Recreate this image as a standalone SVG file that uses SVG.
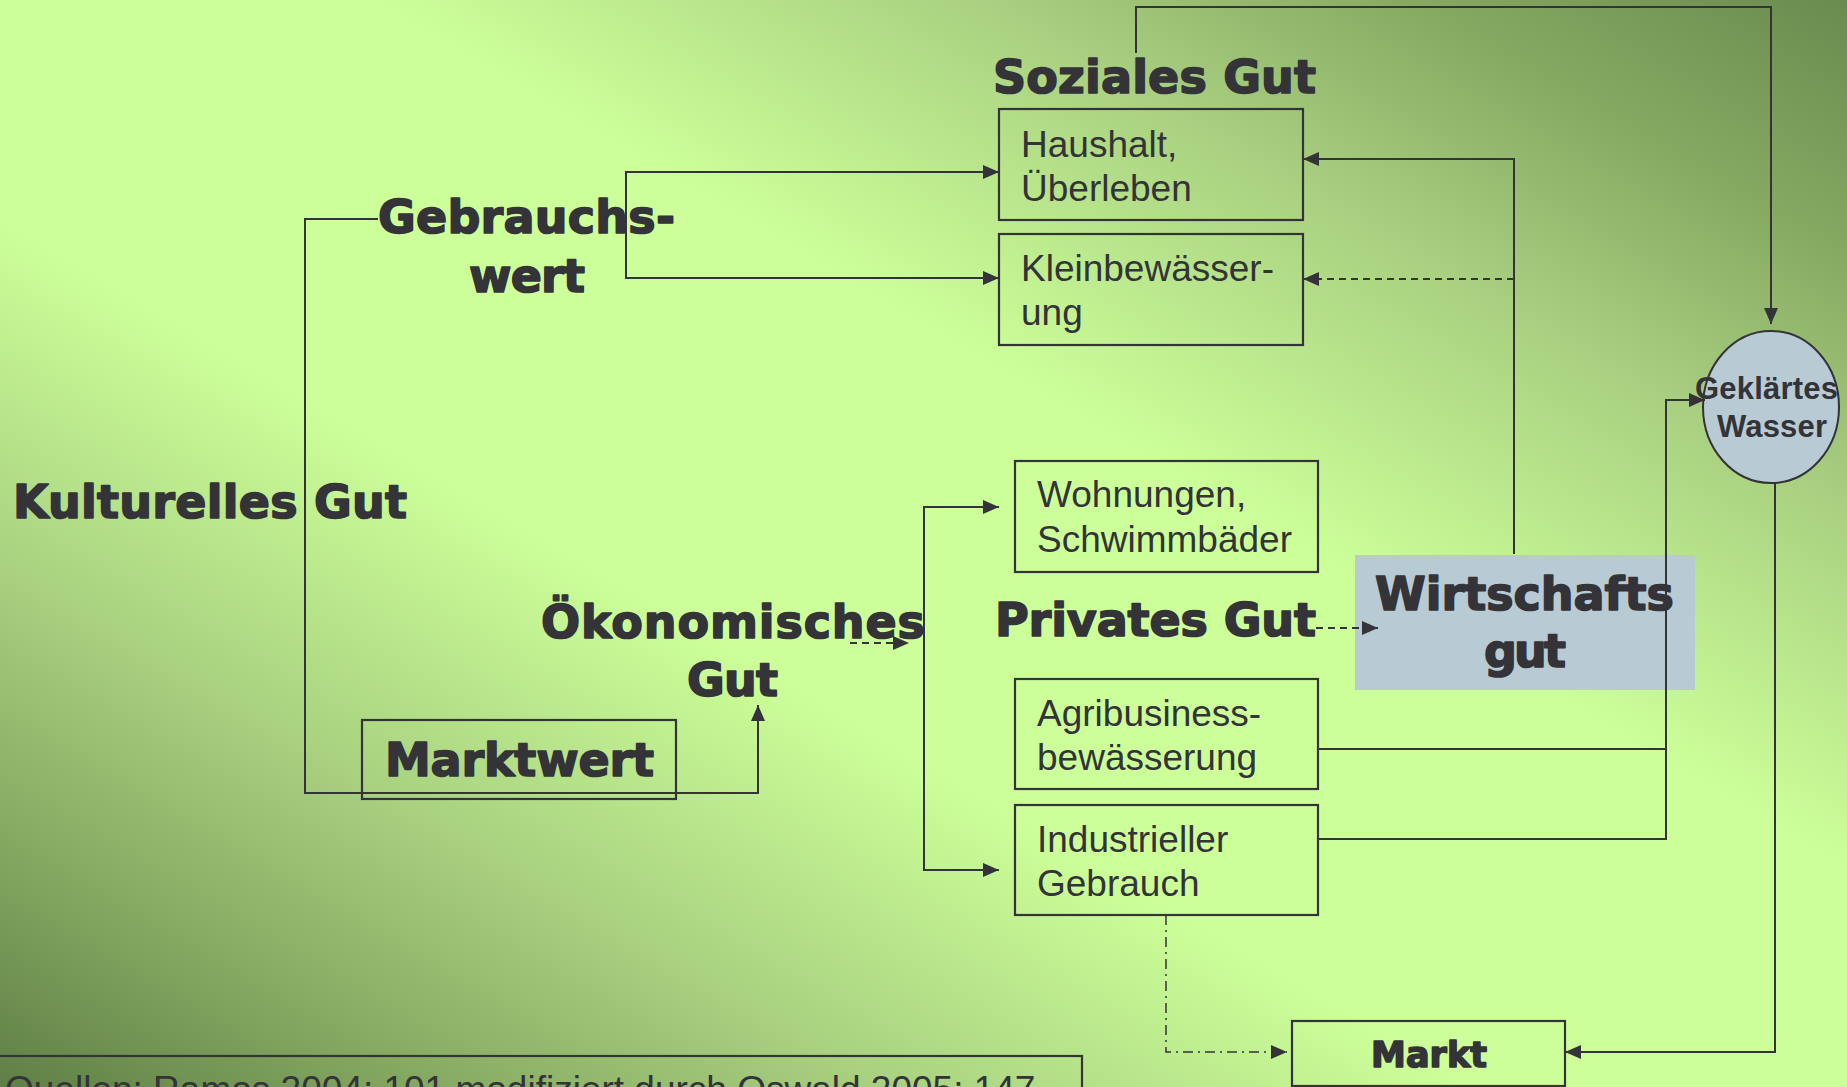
<svg xmlns="http://www.w3.org/2000/svg" width="1847" height="1087" viewBox="0 0 1847 1087">
<defs>
<linearGradient id="bg" x1="0" y1="1" x2="1" y2="0">
<stop offset="0" stop-color="#5f7f46"/>
<stop offset="0.12" stop-color="#86aa62"/>
<stop offset="0.24" stop-color="#a9d180"/>
<stop offset="0.4" stop-color="#ccff99"/>
<stop offset="0.6" stop-color="#ccff99"/>
<stop offset="0.77" stop-color="#a8cf80"/>
<stop offset="0.88" stop-color="#86aa62"/>
<stop offset="1" stop-color="#698b4f"/>
</linearGradient>
<marker id="ah" markerUnits="userSpaceOnUse" markerWidth="16" markerHeight="14" refX="16" refY="7" orient="auto">
<path d="M0,0 L16,7 L0,14 z" fill="#333338"/>
</marker>
<style>
.box{fill:none;stroke:#333338;stroke-width:2.2}
.t{font-family:"Liberation Sans",Arial,sans-serif;font-size:37px;fill:#333338}
.b{font-family:"DejaVu Sans",Verdana,sans-serif;font-weight:bold;font-size:46px;fill:#333338;stroke:#333338;stroke-width:1.6;stroke-linejoin:round}
.m{font-size:35px}
.bs{font-family:"Liberation Sans",Arial,sans-serif;font-weight:bold;font-size:31px;fill:#333338}
.c{fill:none;stroke:#333338;stroke-width:2}
.a{marker-end:url(#ah)}
.d{stroke-dasharray:7 5}
.dd{stroke-dasharray:10 5 2 5;stroke-width:1.5}
.blue{fill:#b8cad4}
</style>
</defs>
<rect x="0" y="0" width="1847" height="1087" fill="url(#bg)"/>

<g id="wirtschaftsgut">
<rect class="blue" x="1355" y="555" width="340" height="135"/>
<text class="b" x="1375" y="610" textLength="299" lengthAdjust="spacing">Wirtschafts</text>
<text class="b" x="1484" y="667" textLength="82" lengthAdjust="spacing">gut</text>
</g>

<g id="kulturelles-gut">
<text class="b" x="13" y="518" textLength="394" lengthAdjust="spacing">Kulturelles Gut</text>
</g>

<g id="gebrauchswert">
<text class="b" x="378" y="233" textLength="297" lengthAdjust="spacing">Gebrauchs-</text>
<text class="b" x="469" y="292" textLength="116" lengthAdjust="spacing">wert</text>
</g>

<g id="soziales-gut">
<text class="b" x="993" y="93" textLength="323" lengthAdjust="spacing">Soziales Gut</text>
</g>

<g id="haushalt">
<rect class="box" x="999" y="109" width="304" height="111"/>
<text class="t" x="1021" y="157">Haushalt,</text>
<text class="t" x="1021" y="201">Überleben</text>
</g>

<g id="kleinbewaesserung">
<rect class="box" x="999" y="234" width="304" height="111"/>
<text class="t" x="1021" y="281">Kleinbewässer-</text>
<text class="t" x="1021" y="325">ung</text>
</g>

<g id="oekonomisches-gut">
<text class="b" x="541" y="638" textLength="384" lengthAdjust="spacing">Ökonomisches</text>
<text class="b" x="687" y="696" textLength="91" lengthAdjust="spacing">Gut</text>
</g>

<g id="marktwert">
<rect class="box" x="362" y="720" width="314" height="79"/>
<text class="b" x="385" y="776" textLength="269" lengthAdjust="spacing">Marktwert</text>
</g>

<g id="wohnungen">
<rect class="box" x="1015" y="461" width="303" height="111"/>
<text class="t" x="1037" y="507">Wohnungen,</text>
<text class="t" x="1037" y="552">Schwimmbäder</text>
</g>

<g id="privates-gut">
<text class="b" x="995" y="636" textLength="321" lengthAdjust="spacing">Privates Gut</text>
</g>

<g id="agribusiness">
<rect class="box" x="1015" y="679" width="303" height="110"/>
<text class="t" x="1037" y="726">Agribusiness-</text>
<text class="t" x="1037" y="770">bewässerung</text>
</g>

<g id="industrieller-gebrauch">
<rect class="box" x="1015" y="805" width="303" height="110"/>
<text class="t" x="1037" y="852">Industrieller</text>
<text class="t" x="1037" y="896">Gebrauch</text>
</g>

<g id="markt">
<rect class="box" x="1292" y="1021" width="273" height="65"/>
<text class="b m" x="1371" y="1067" textLength="116" lengthAdjust="spacing">Markt</text>
</g>

<g id="geklaertes-wasser">
<ellipse cx="1771" cy="407" rx="68" ry="76" fill="#b8cad4" stroke="#333338" stroke-width="2"/>
<text class="bs" x="1695" y="399" textLength="143" lengthAdjust="spacing">Geklärtes</text>
<text class="bs" x="1717" y="437" textLength="110" lengthAdjust="spacing">Wasser</text>
</g>

<g id="quellen">
<rect class="box" x="-2" y="1056" width="1084" height="60"/>
<text class="t" x="5" y="1102">Quellen: Ramos 2004: 101 modifiziert durch Oswald 2005: 147</text>
</g>

<g id="connectors">
<path class="c a" d="M378,219 H305 V793 H758 V705"/>
<path class="c a" d="M626,225 V172 H999"/>
<path class="c a" d="M626,225 V278 H999"/>
<path class="c a d" d="M850,643 H909"/>
<path class="c a" d="M924,690 V507 H999"/>
<path class="c a" d="M924,690 V870 H999"/>
<path class="c a d" d="M1316,628 H1378"/>
<path class="c a" d="M1514,554 V159 H1303"/>
<path class="c a d" d="M1514,279 H1303"/>
<path class="c a" d="M1136,53 V7 H1771 V324"/>
<path class="c" d="M1318,749 H1666"/>
<path class="c a" d="M1318,839 H1666 V400 H1705"/>
<path class="c a" d="M1775,483 V1052 H1565"/>
<path class="c a dd" d="M1166,915 V1052 H1287"/>
</g>
</svg>
